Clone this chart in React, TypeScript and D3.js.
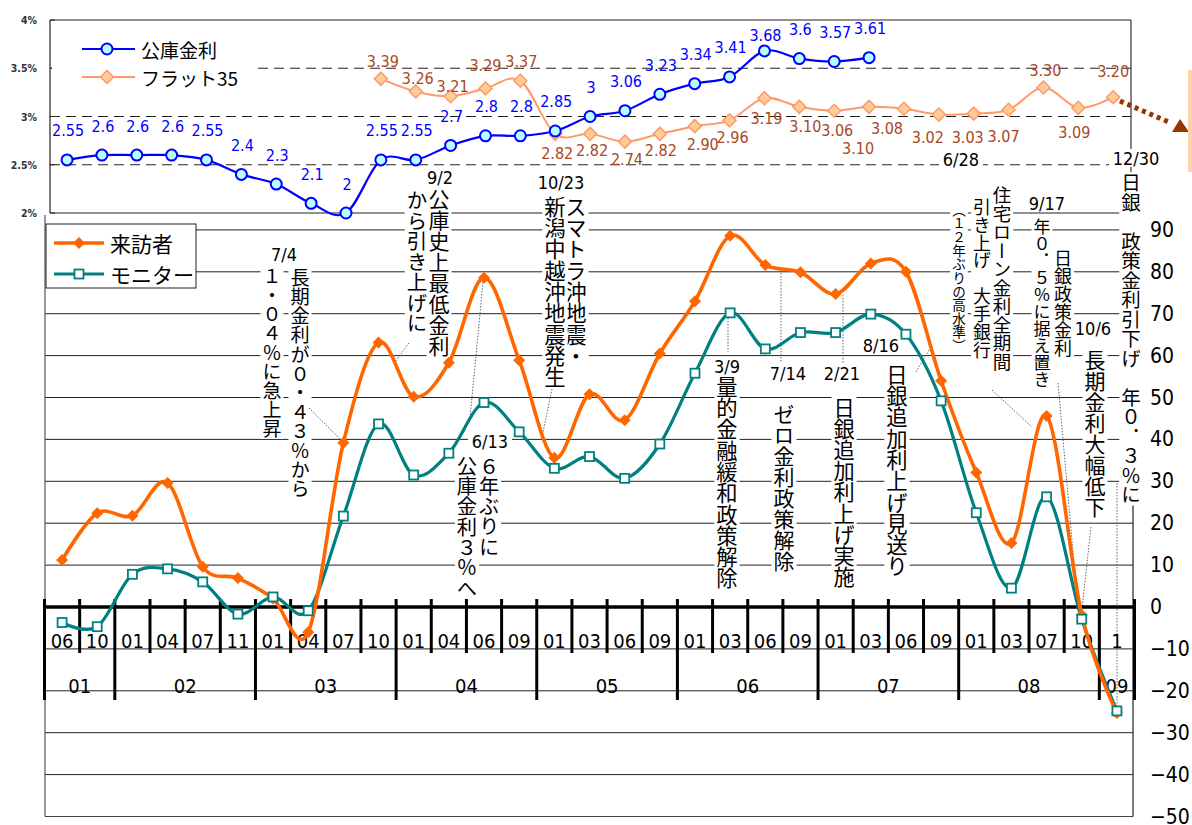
// @ts-nocheck
import React from "react";
import * as d3 from "d3";

// ---- data ----
const months = [
  "06", "10", "01", "04", "07", "11", "01", "04", "07", "10", "01", "04", "06", "09", "01", "03",
  "06", "09", "01", "03", "06", "09", "01", "03", "06", "09", "01", "03", "07", "10", "1",
];
const yearLabels = ["01", "02", "03", "04", "05", "06", "07", "08", "09"];
const yearSpans = [2, 4, 4, 4, 4, 4, 4, 4, 1];

// 来訪者 / モニター (DI)
const visitors = [
  11.2, 22.4, 21.8, 29.6, 9.6, 6.9, 2.0, -6.0, 39.2, 63.1, 50.2, 58.3, 78.6, 58.9, 35.6, 50.8,
  44.6, 60.5, 73.0, 88.6, 81.6, 79.9, 74.7, 82.0, 80.0, 54.0, 32.1, 15.3, 45.6, -1.9, -25.3,
];
const monitors = [
  -3.7, -4.7, 7.8, 9.1, 6.0, -1.7, 2.4, -0.9, 21.7, 43.7, 31.5, 36.7, 48.8, 41.8, 33.1, 35.9,
  30.7, 38.9, 55.8, 70.2, 61.6, 65.5, 65.5, 69.9, 65.1, 49.2, 22.5, 4.5, 26.3, -2.9, -24.8,
];

// 公庫金利 / フラット35 (%)
const kokoRate = [
  2.55, 2.6, 2.6, 2.6, 2.55, 2.4, 2.3, 2.1, 2, 2.55, 2.55, 2.7, 2.8, 2.8, 2.85, 3, 3.06, 3.23,
  3.34, 3.41, 3.68, 3.6, 3.57, 3.61, null, null, null, null, null, null, null,
];
const flat35 = [
  null, null, null, null, null, null, null, null, null, 3.39, 3.26, 3.21, 3.29, 3.37, 2.82, 2.82,
  2.74, 2.82, 2.9, 2.96, 3.19, 3.1, 3.06, 3.1, 3.08, 3.02, 3.03, 3.07, 3.3, 3.09, 3.2,
];

const rightTicks = [-50, -40, -30, -20, -10, 0, 10, 20, 30, 40, 50, 60, 70, 80, 90];
const upperTicks = [2, 2.5, 3, 3.5, 4];

const notes = [
  { date: "7/4", cols: ["長期金利が０・４３％から", "１・０４％に急上昇"] },
  { date: "9/2", cols: ["公庫史上最低金利", "から引き上げに"] },
  { date: "10/23", cols: ["スマトラ沖地震・", "新潟中越沖地震発生"] },
  { date: "6/13", cols: ["６年ぶりに", "公庫金利３％へ"] },
  { date: "3/9", cols: ["量的金融緩和政策解除"] },
  { date: "7/14", cols: ["ゼロ金利政策解除"] },
  { date: "2/21", cols: ["日銀追加利上げ実施"] },
  { date: "8/16", cols: ["日銀追加利上げ見送り"] },
  { date: "6/28", cols: ["住宅ローン金利全期間", "引き上げ　大手銀行", "（１２年ぶりの高水準）"] },
  { date: "9/17", cols: ["日銀政策金利", "年０．５％に据え置き"] },
  { date: "10/6", cols: ["長期金利大幅低下"] },
  { date: "12/30", cols: ["日銀　政策金利引下げ　年０．３％に"] },
];

// ---- layout ----
const W = 1192;
const H = 825;
const FONT_JP = "'Noto Sans CJK JP', 'Noto Sans', sans-serif";
const FONT_NUM = "'DejaVu Sans Condensed', 'Liberation Sans Narrow', 'DejaVu Sans', sans-serif";

// per note: date centre, column [x, top, fontSize], leader line
const noteLayout = [
  { d: [284, 254], c: [[300, 268, 19.2], [272, 267, 19]], lead: [309, 408, 342, 441] },
  { d: [440, 177], c: [[439, 189, 21], [417, 190, 20.5]], lead: [409, 343, 395, 362] },
  { d: [561, 182], c: [[576, 196, 21.3], [555, 196, 21.3]], lead: [552, 389, 543, 432] },
  { d: [490, 441], c: [[489, 456, 20.2], [467, 456, 20.3]], lead: [470, 418, 483, 282] },
  { d: [727, 366], c: [[727, 376, 21.3]], lead: [728, 318, 728, 352] },
  { d: [788, 373], c: [[784, 404, 21]], lead: [781, 267, 781, 362] },
  { d: [842, 373], c: [[844, 397, 21.2]], lead: [843, 295, 843, 363] },
  { d: [881, 345], c: [[897, 364, 21.3]], lead: [916, 372, 929, 350] },
  { d: [961, 159], c: [[1002, 186, 18.5], [982, 198, 17.9], [959, 203, 13.6]], lead: [992, 390, 1032, 427] },
  { d: [1047, 203], c: [[1063, 249, 18], [1042, 218, 17]], lead: [1058, 383, 1078, 608] },
  { d: [1093, 328], c: [[1095, 350, 21]], lead: [1091, 527, 1082, 609] },
  { d: [1136, 158], c: [[1131, 173, 19.5]], lead: [1117, 483, 1117, 712] },
];

// label nudges for upper series (px, relative to marker)
const kokoLabelDy = (i) => (i === 20 ? -15 : -29);
const flatLabelOffset = {
  9: [2, -17], 10: [2, -13], 11: [2, -10], 12: [0, -23], 13: [1, -19], 14: [2, 20], 15: [2, 17],
  16: [2, 18], 17: [1, 17], 18: [8, 18], 19: [3, 17], 20: [2, 20], 21: [6, 20], 22: [3, 20],
  23: [-11, 42], 24: [-17, 20], 25: [-11, 23], 26: [-6, 24], 27: [-5, 27], 28: [2, -17],
  29: [-4, 25], 30: [0, -26],
};

const idx = d3.range(months.length);
const xL = d3.scaleBand().domain(idx).range([44.5, 1134.5]);
const yL = d3.scaleLinear().domain([-50, 90]).range([816.5, 229.9]);
const xU = d3.scaleBand().domain(idx).range([49.6, 1130.6]);
const yU = d3.scaleLinear().domain([2, 4]).range([213, 20]);
const cL = (i) => xL(i) + xL.bandwidth() / 2;
const cU = (i) => xU(i) + xU.bandwidth() / 2;

const DIAMOND = (r) => `M0,${-r}L${r},0L0,${r}L${-r},0Z`;

const VCol = ({ text, x, y, fs }) => {
  const n = Array.from(text).length;
  return (
    <g>
      <rect x={x - fs / 2 - 2} y={y - 1} width={fs + 4} height={n * fs + 2} fill="#fff" />
      <text
        x={x}
        y={y}
        fontSize={fs}
        fontFamily={FONT_JP}
        fill="#000"
        style={{ writingMode: "vertical-rl" }}
      >
        {text}
      </text>
    </g>
  );
};

export default function App() {
  const lineL = d3
    .line()
    .x((d, i) => cL(i))
    .y((d) => yL(d))
    .curve(d3.curveCatmullRom.alpha(0));
  const lineU = d3
    .line()
    .defined((d) => d != null)
    .x((d, i) => cU(i))
    .y((d) => yU(d))
    .curve(d3.curveCatmullRom.alpha(0));

  // year boundaries
  const yearStarts = [];
  let acc = 0;
  yearSpans.forEach((n) => {
    yearStarts.push(acc);
    acc += n;
  });

  return (
    <svg
      width={W}
      height={H}
      viewBox={`0 0 ${W} ${H}`}
      style={{ position: "absolute", left: 0, top: 0, background: "#fff" }}
    >
      <rect width={W} height={H} fill="#fff" />

      {/* lower chart grid */}
      <g>
        {rightTicks
          .filter((t) => t !== 0 && t !== -50)
          .map((t) => (
            <line key={t} x1={45} x2={1133} y1={yL(t)} y2={yL(t)} stroke="#222" strokeWidth={1} />
          ))}
        <line x1={45} x2={45} y1={215} y2={yL(-50)} stroke="#555" strokeWidth={1.2} />
        <line x1={45} x2={1133} y1={yL(-50)} y2={yL(-50)} stroke="#444" strokeWidth={1.2} />
        <line x1={1133} x2={1133} y1={200} y2={yL(-50)} stroke="#222" strokeWidth={1.2} />
      </g>

      {/* upper chart frame */}
      <g>
        <rect x={50} y={yU(4)} width={1081} height={yU(2) - yU(4)} fill="#fff" />
        {[2.5, 3, 3.5].map((t) => (
          <line
            key={t}
            x1={50}
            x2={1131}
            y1={yU(t)}
            y2={yU(t)}
            stroke="#222"
            strokeWidth={1}
            strokeDasharray="10,6"
          />
        ))}
        <line x1={50} x2={1131} y1={yU(4)} y2={yU(4)} stroke="#222" strokeWidth={1} />
        <line x1={50} x2={1131} y1={yU(2)} y2={yU(2)} stroke="#222" strokeWidth={1} />
        <line x1={50} x2={50} y1={yU(4)} y2={yU(2)} stroke="#222" strokeWidth={1.2} />
        <line x1={1131} x2={1131} y1={yU(4)} y2={yU(2)} stroke="#333" strokeWidth={1.2} />
        {upperTicks.map((t) => (
          <g key={t}>
            <line x1={50} x2={55} y1={yU(t)} y2={yU(t)} stroke="#222" />
            <text
              x={37}
              y={yU(t)}
              textAnchor="end"
              dominantBaseline="central"
              fontSize={10.5}
              fontWeight="bold"
              fontFamily={FONT_NUM}
              fill="#333"
            >
              {`${t}%`}
            </text>
          </g>
        ))}
        {/* legend */}
        <rect x={52} y={24} width={206} height={68} fill="#fff" />
        <line x1={82} x2={135} y1={49} y2={49} stroke="#0000FF" strokeWidth={2.2} />
        <circle cx={107} cy={49} r={5.5} fill="#B8FFFF" stroke="#0000FF" strokeWidth={2} />
        <text x={141} y={49} dominantBaseline="central" fontSize={19} fontFamily={FONT_JP}>
          公庫金利
        </text>
        <line x1={82} x2={135} y1={77} y2={77} stroke="#FF9966" strokeWidth={2.2} />
        <path d={DIAMOND(6.5)} transform="translate(107,77)" fill="#FFCC99" stroke="#FF9966" strokeWidth={1.5} />
        <text x={141} y={77} dominantBaseline="central" fontSize={19} fontFamily={FONT_JP}>
          フラット35
        </text>
      </g>

      {/* annotations */}
      <g>
        {notes.map((n, k) => {
          const L = noteLayout[k];
          const dw = n.date.length * 10 + 4;
          return (
            <g key={k}>
              <rect x={L.d[0] - dw / 2} y={L.d[1] - 9} width={dw} height={18} fill="#fff" />
              <text
                x={L.d[0]}
                y={L.d[1]}
                textAnchor="middle"
                dominantBaseline="central"
                fontSize={18}
                fontFamily={FONT_NUM}
                fill="#000"
              >
                {n.date}
              </text>
              {n.cols.map((c, j) => (
                <VCol key={j} text={c} x={L.c[j][0]} y={L.c[j][1]} fs={L.c[j][2]} />
              ))}
              <line
                x1={L.lead[0]}
                y1={L.lead[1]}
                x2={L.lead[2]}
                y2={L.lead[3]}
                stroke="#555"
                strokeWidth={0.9}
                strokeDasharray="1.5,1.5"
              />
            </g>
          );
        })}
      </g>

      {/* upper series */}
      <g>
        <path d={lineU(flat35)} fill="none" stroke="#FF9966" strokeWidth={2} />
        <path d={lineU(kokoRate)} fill="none" stroke="#0000FF" strokeWidth={2.2} />
        {flat35.map((v, i) =>
          v == null ? null : (
            <g key={i}>
              <path
                d={DIAMOND(6.5)}
                transform={`translate(${cU(i)},${yU(v)})`}
                fill="#FFCC99"
                stroke="#FF9966"
                strokeWidth={1.5}
              />
              <text
                x={cU(i) + flatLabelOffset[i][0]}
                y={yU(v) + flatLabelOffset[i][1]}
                textAnchor="middle"
                dominantBaseline="central"
                fontSize={16}
                fontFamily={FONT_NUM}
                fill="#A8481C"
              >
                {v.toFixed(2)}
              </text>
            </g>
          )
        )}
        {kokoRate.map((v, i) =>
          v == null ? null : (
            <g key={i}>
              <circle cx={cU(i)} cy={yU(v)} r={5.5} fill="#B8FFFF" stroke="#0000FF" strokeWidth={2} />
              <text
                x={cU(i) + 1}
                y={yU(v) + kokoLabelDy(i)}
                textAnchor="middle"
                dominantBaseline="central"
                fontSize={16}
                fontFamily={FONT_NUM}
                fill="#0000FF"
              >
                {String(v)}
              </text>
            </g>
          )
        )}
        {/* arrow */}
        <line
          x1={1120}
          y1={101}
          x2={1171}
          y2={123}
          stroke="#993300"
          strokeWidth={5}
          strokeDasharray="4,4"
        />
        <polygon points="1172,132 1180,119 1189,132" fill="#993300" />
        <rect x={1188} y={70} width={4} height={102} fill="#FFD2A6" />
      </g>

      {/* category axis */}
      <g>
        <line x1={44.5} x2={1134.5} y1={yL(0)} y2={yL(0)} stroke="#000" strokeWidth={3.5} />
        {idx.map((i) => (
          <line
            key={i}
            x1={xL(i)}
            x2={xL(i)}
            y1={599}
            y2={yearStarts.includes(i) ? 700 : 653}
            stroke="#000"
            strokeWidth={3}
          />
        ))}
        <line x1={1134.5} x2={1134.5} y1={599} y2={700} stroke="#000" strokeWidth={3} />
        {months.map((m, i) => (
          <text
            key={i}
            x={cL(i)}
            y={641}
            textAnchor="middle"
            dominantBaseline="central"
            fontSize={20}
            fontFamily={FONT_NUM}
            fill="#000"
          >
            {m}
          </text>
        ))}
        {yearLabels.map((y, k) => {
          const a = xL(yearStarts[k]);
          const b = a + yearSpans[k] * xL.bandwidth();
          return (
            <text
              key={y}
              x={(a + b) / 2}
              y={686}
              textAnchor="middle"
              dominantBaseline="central"
              fontSize={20}
              fontFamily={FONT_NUM}
              fill="#000"
            >
              {y}
            </text>
          );
        })}
      </g>

      {/* lower series */}
      <g>
        <path d={lineL(monitors)} fill="none" stroke="#008080" strokeWidth={3.2} />
        <path d={lineL(visitors)} fill="none" stroke="#FF6600" strokeWidth={3.6} />
        {visitors.map((v, i) => (
          <path key={i} d={DIAMOND(6)} transform={`translate(${cL(i)},${yL(v)})`} fill="#FF6600" />
        ))}
        {monitors.map((v, i) => (
          <rect
            key={i}
            x={cL(i) - 4.5}
            y={yL(v) - 4.5}
            width={9}
            height={9}
            fill="#fff"
            stroke="#008080"
            strokeWidth={1.8}
          />
        ))}
      </g>

      {/* lower legend */}
      <g>
        <rect x={46} y={224} width={150} height={64} fill="#fff" stroke="#222" strokeWidth={1} />
        <line x1={54} x2={104} y1={243} y2={243} stroke="#FF6600" strokeWidth={3.6} />
        <path d={DIAMOND(6)} transform="translate(79,243)" fill="#FF6600" />
        <text x={110} y={243} dominantBaseline="central" fontSize={21} fontFamily={FONT_JP}>
          来訪者
        </text>
        <line x1={54} x2={104} y1={274} y2={274} stroke="#008080" strokeWidth={3.2} />
        <rect x={74.5} y={269.5} width={9} height={9} fill="#fff" stroke="#008080" strokeWidth={1.8} />
        <text x={110} y={274} dominantBaseline="central" fontSize={21} fontFamily={FONT_JP}>
          モニター
        </text>
      </g>

      {/* right axis */}
      <g>
        {rightTicks.map((t) => (
          <text
            key={t}
            x={1150}
            y={yL(t)}
            dominantBaseline="central"
            fontSize={21}
            fontFamily={FONT_NUM}
            fill="#000"
          >
            {t < 0 ? `−${-t}` : `${t}`}
          </text>
        ))}
      </g>
    </svg>
  );
}
